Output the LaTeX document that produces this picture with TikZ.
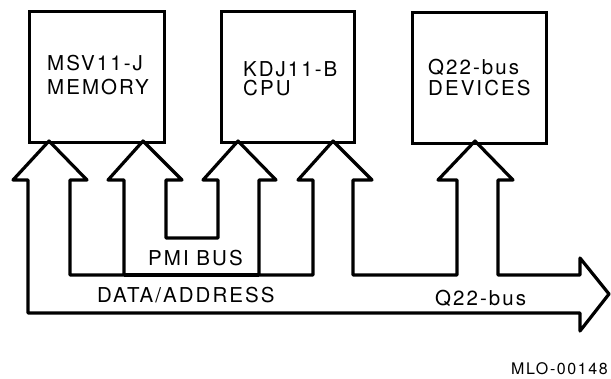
\documentclass[tikz,border=0pt]{standalone}
\usepackage{fontspec}
\setmainfont{TeX Gyre Heros}[LetterSpace=10]
\begin{document}
\begin{tikzpicture}[x=1pt,y=-1pt,
  box/.style={draw,line width=3.2pt,minimum width=135pt,minimum height=131pt,inner sep=0pt,anchor=north west},
  lbl/.style={font=\fontsize{20.5}{24}\selectfont,anchor=base west,inner sep=0pt,align=left},
  bus/.style={draw,line width=3.2pt,line join=round}]
\useasboundingbox (0,0) rectangle (611,378);
% boxes
\node[box] (mem) at (28,10) {};
\node[box,minimum width=133pt] (cpu) at (220,10) {};
\node[box,minimum width=134pt] (dev) at (411,11) {};
% box texts (base = baseline of last line)
\node[lbl] (memt) at (47,94) {MSV11-J\\[0pt]MEMORY};
\node[lbl] (cput) at (243,95) {KDJ11-B\\[-5pt]CPU};
\node[lbl] (devt) at (428,95) {Q22-bus\\[-3pt]DEVICES};
% arrow tip coordinates on box bottoms
\coordinate (t1) at (49,141);
\coordinate (t2) at (143,141);
\coordinate (t3) at (238,141);
\coordinate (t4) at (333,141);
\coordinate (t5) at (475,141);
% buses
\path[bus] (28,313) -- (28,180) -- (13,180) -- (t1) -- (87,180) -- (70,180) -- (70,275)
  -- (124,275) -- (124,180) -- (108,180) -- (t2) -- (182,180) -- (166,180) -- (166,238)
  -- (218,238) -- (218,180) -- (203,180) -- (t3) -- (276,180) -- (259,180) -- (259,275)
  -- (313,275) -- (313,180) -- (298,180) -- (t4) -- (372,180) -- (353,180) -- (353,275)
  -- (457,275) -- (457,180) -- (438,180) -- (t5) -- (513,180) -- (498,180) -- (498,275)
  -- (580,275) -- (580,258) -- (609,294) -- (580,331) -- (580,313) -- cycle;
\coordinate (p1) at (124,275);
\coordinate (p2) at (259,275);
\draw[bus] (p1) -- (p2);
% bus labels
\node[lbl] (pmi) at (148,265) {PMI BUS};
\node[lbl] (da) at (97,302) {DATA/ADDRESS};
\node[lbl] (q22) at (435,305) {Q22-bus};
\node[lbl,font=\fontsize{16}{18}\selectfont] (mlo) at (511,374) {MLO-00148};
\end{tikzpicture}
\end{document}
